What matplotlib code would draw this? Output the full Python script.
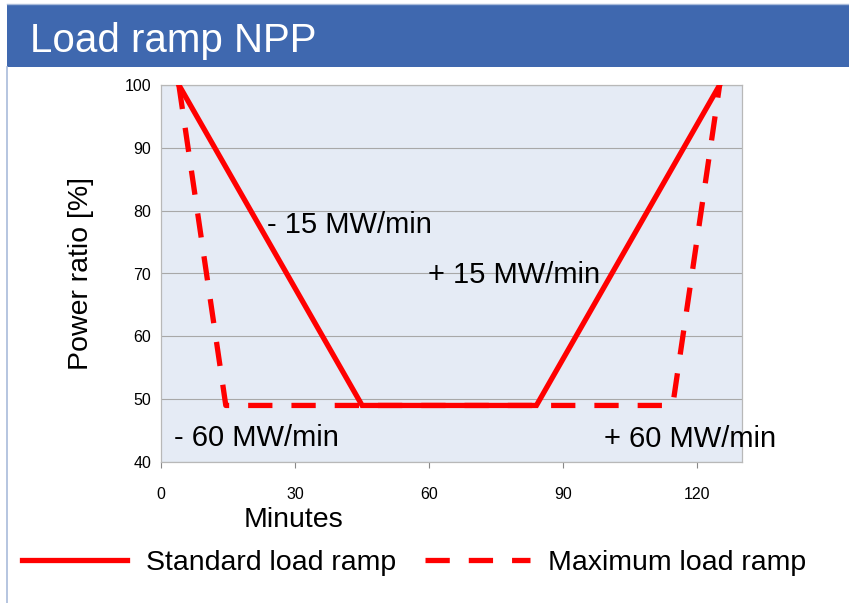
import matplotlib
matplotlib.use('Agg')
import matplotlib.pyplot as plt
from matplotlib.patches import Rectangle
from matplotlib.lines import Line2D

plt.rcParams['font.family'] = ['Liberation Sans', 'DejaVu Sans']

# data
std_minutes = [4, 45, 84, 125]
std_power = [100, 49, 49, 100]
max_minutes = [4, 14.5, 114.5, 125]
max_power = [100, 49, 49, 100]

x_ticks = [0, 30, 60, 90, 120]
y_ticks = [40, 50, 60, 70, 80, 90, 100]

ramp_labels = ['- 15 MW/min', '+ 15 MW/min', '- 60 MW/min', '+ 60 MW/min']
ramp_x = [23.7, 59.7, 2.9, 99.2]
ramp_y = [76.5, 68.5, 42.5, 42.4]

red = '#FF0000'

fig = plt.figure(figsize=(8.49, 6.03), dpi=100)
W, H = 849., 603.

# title bar and slide border
fig.patches.append(Rectangle((7 / W, 1 - 67 / H), 1 - 7 / W, 63 / H,
                             transform=fig.transFigure, facecolor='#3F68AF',
                             edgecolor='none', zorder=0))
fig.lines.append(Line2D([7 / W, 7 / W], [0, 1 - 67 / H], transform=fig.transFigure,
                        color='#A9BBDA', lw=1.2))
fig.lines.append(Line2D([7 / W, 1], [1 - 4 / H, 1 - 4 / H], transform=fig.transFigure,
                        color='#A9BBDA', lw=1.0))
fig.text(30 / W, 1 - 52 / H, 'Load ramp NPP', color='white', fontsize=29,
         ha='left', va='baseline')

ax = fig.add_axes([161 / W, 1 - 462 / H, (742 - 161) / W, (462 - 85) / H])
ax.set_facecolor('#E5EBF5')
ax.set_xlim(0, 130)
ax.set_ylim(40, 100)
ax.set_xticks(x_ticks)
ax.set_yticks(y_ticks)
ax.tick_params(axis='y', length=0, pad=7, labelsize=11.5)
ax.tick_params(axis='x', length=4, pad=14, labelsize=11.5, color='#888888', direction='out')
ax.yaxis.grid(True, color='#A8A8A8', lw=0.8)
ax.set_axisbelow(True)
for side in ['left', 'bottom', 'right', 'top']:
    ax.spines[side].set_color('#B8B8B8')
    ax.spines[side].set_linewidth(0.9)

ax.plot(std_minutes, std_power, color=red, lw=3.8, solid_joinstyle='miter',
        label='Standard load ramp', zorder=3)
ax.plot(max_minutes, max_power, color=red, lw=3.8, linestyle=(0, (4.6, 3.6)),
        label='Maximum load ramp', zorder=3)

for lab, tx, ty in zip(ramp_labels, ramp_x, ramp_y):
    ax.text(tx, ty, lab, fontsize=21, ha='left', va='baseline', clip_on=False, zorder=4)

ax.set_ylabel('Power ratio [%]', fontsize=20.5)
ax.yaxis.set_label_coords(-0.115, 0.5)
fig.text(294 / W, 1 - 527 / H, 'Minutes', fontsize=20.5, ha='center', va='baseline')

ax.legend(loc='center left', bbox_to_anchor=(22 / W, 1 - 563 / H), bbox_transform=fig.transFigure,
          ncol=2, frameon=False, fontsize=20.5, handlelength=3.7, handletextpad=0.65,
          columnspacing=1.0, borderaxespad=0, borderpad=0)

fig.savefig('out.png', dpi=100, facecolor='white')
